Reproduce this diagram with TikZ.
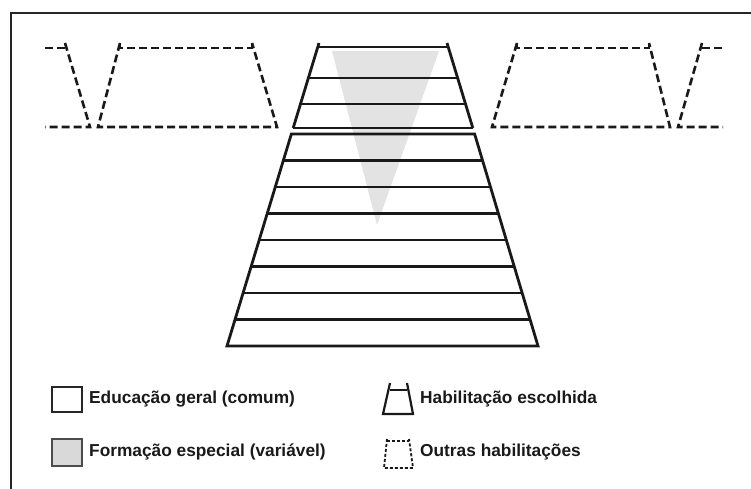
\documentclass[tikz,border=0pt]{standalone}
\usepackage{fontspec}
\setmainfont{Liberation Sans}

\tikzset{
	solidline/.style={line width=2.8pt, color=black!90},
	dashline/.style={line width=2.6pt, color=black!90, dash pattern=on 8pt off 4pt},
	smalldash/.style={line width=1.8pt, color=black!90, dash pattern=on 3pt off 2pt},
	legendtext/.style={anchor=west, inner sep=0pt, text=black!90, font=\fontsize{17.3}{20}\selectfont\bfseries}
}

\begin{document}
\begin{tikzpicture}[x=1pt, y=-1pt, line cap=butt, line join=miter]
			\useasboundingbox (0,0) rectangle (751,489);
			
			% frame
			\draw [line width=2.4pt, color=black!85] (11,489) -- (11,13) -- (751,13);
			
			% formacao especial
			\fill [color=gray!22] (332,51) -- (439,51) -- (377,225) -- cycle;
			
			% habilitacao escolhida
			\draw [solidline] (319,43) -- ({319-0.3036*85},128);
			\draw [solidline] (447,43) -- ({447+0.3036*85},128);
			\foreach \y in {47, 78, 104, 128}{
				\draw [solidline] ({319-0.3036*(\y-43)},\y) -- ({447+0.3036*(\y-43)},\y);}
			
			% educacao geral
			\draw [solidline] ({319-0.3036*91},134) -- (227,346) -- (538,346) -- ({447+0.3036*91},134) -- cycle;
			\foreach \y in {160.5, 187, 213.5, 240, 266.5, 293, 319.5}{
				\draw [solidline] ({319-0.3036*(\y-43)},\y) -- ({447+0.3036*(\y-43)},\y);}
			
			% outras habilitacoes
			\draw [dashline] (45,48) -- (65,48) -- (65,43);
			\draw [dashline] (65,43) -- (90,127) -- (45,127);
			\draw [dashline] (120,43) -- (120,48) -- (252,48) -- (252,43);
			\draw [dashline] (120,43) -- (98,127) -- (277,127) -- (252,43);
			\draw [dashline] (517,43) -- (517,48) -- (649,48) -- (649,43);
			\draw [dashline] (517,43) -- (492,127) -- (670,127) -- (649,43);
			\draw [dashline] (722,48) -- (702,48) -- (702,43);
			\draw [dashline] (702,43) -- (678,127) -- (723,127);
			
			% legend
			\draw [line width=2pt, color=black!85] (52,387) rectangle (82,412);
			\draw [line width=2pt, color=black!70, fill=gray!30] (52,439) rectangle (82,466);
			\node [legendtext] (geral) at (89,399) {Educação geral (comum)};
			\node [legendtext] (especial) at (89,452) {Formação especial (variável)};
			
			\draw [line width=2.2pt, color=black!90] (390,383) -- (383,414) -- (413,414) -- (407,383);
			\draw [line width=2.2pt, color=black!90] (390,390) -- (407,390);
			\draw [smalldash] (387,439) -- (384,468) -- (413,468) -- (409,439);
			\draw [smalldash] (387,441) -- (409,441);
			\node [legendtext] (escolhida) at (420,399) {Habilitação escolhida};
			\node [legendtext] (outras) at (420,452) {Outras habilitações};
		\end{tikzpicture}
\end{document}
